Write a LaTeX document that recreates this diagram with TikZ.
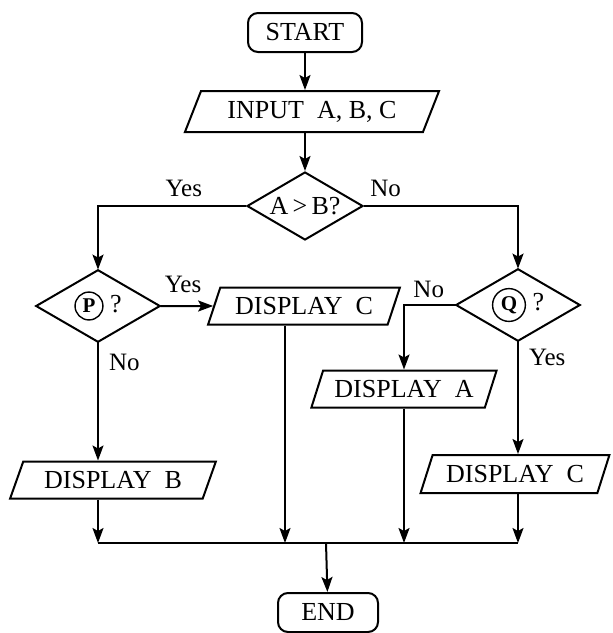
\documentclass[tikz,border=0pt]{standalone}
\usepackage{fontspec}
\setmainfont{Liberation Serif}
\usetikzlibrary{arrows.meta,shapes.geometric}

\newcommand{\boxfont}{\fontsize{13}{15}\selectfont}
\newcommand{\labfont}{\fontsize{12.5}{14}\selectfont}
\newcommand{\circletter}[1]{\tikz[baseline=(c.base)]\node[shape=circle, draw, line width=0.7pt, inner sep=1.6pt, minimum width=0pt, minimum height=0pt, font=\fontsize{10.5}{10.5}\selectfont\bfseries] (c) {#1};}

\begin{document}
\begin{tikzpicture}[x=0.5pt, y=-0.5pt, line width=1pt,
    >={Stealth[length=7.5pt, width=5.5pt, inset=1.5pt]},
    term/.style={draw, rectangle, rounded corners=5pt, minimum width=57pt, minimum height=19.5pt, inner sep=0pt, font=\boxfont},
    io/.style={draw, trapezium, trapezium left angle=60, trapezium right angle=120, trapezium stretches=true, minimum height=18.5pt, inner sep=0pt, font=\boxfont},
    test/.style={draw, diamond, aspect=1.7, inner sep=0pt, font=\boxfont},
    lab/.style={font=\labfont, inner sep=2pt}]
    \useasboundingbox (0,0) rectangle (612,633);

    % 开始与输入
    \node[term] (start) at (305,32.5) {START};
    \node[io, minimum width=127.5pt, minimum height=20.5pt] (input) at (312,111.5) {INPUT\enspace A, B, C};

    % 判断框
    \node[test, minimum width=58pt, minimum height=34pt] (ab) at (305,206) {A\,>\,B?};
    \node[test, minimum width=62pt, minimum height=36pt] (p) at (98,306) {\circletter{P}\ ?};
    \node[test, minimum width=62pt, minimum height=36pt] (q) at (518,305) {\circletter{Q}\ ?};

    % 输出框
    \node[io, minimum width=96.5pt] (dc1) at (304,306) {DISPLAY\enspace C};
    \node[io, minimum width=93pt] (da) at (404,389) {DISPLAY\enspace A};
    \node[io, minimum width=103.5pt] (db) at (113,480) {DISPLAY\enspace B};
    \node[io, minimum width=95pt, minimum height=19pt] (dc2) at (515,474) {DISPLAY\enspace C};

    % 结束
    \node[term, minimum width=50pt] (end) at (328,612.5) {END};
    \coordinate (mrg) at (326,543);
    \coordinate (m1) at (285,543);

    % 连线
    \draw[->] (start) -- (start |- input.north);
    \draw[->] (ab.north |- input.south) -- (ab.north);
    \draw[->] (ab.west) -| node[lab, pos=0.21, above=2pt] {Yes} (p.north);
    \draw[->] (ab.east) -| node[lab, pos=0.07, above=2pt] {No} (q.north);
    \draw[->] (p.east) -- node[lab, pos=0.43, above=4pt] {Yes} (dc1.west);
    \draw[->] (p.south) -- node[lab, pos=0.17, right=3pt] {No} (p.south |- db.north);
    \draw[->] (p.south |- db.south) -- (p.south |- mrg);
    \draw[->] (dc1.south -| m1) -- (m1);
    \draw[->] (q.west) -| node[lab, pos=0.26, above=1pt] {No} (da.north);
    \draw[->] (da.south) -- (da.south |- mrg);
    \draw[->] (q.south) -- node[lab, pos=0.14, right=3pt] {Yes} (q.south |- dc2.north);
    \draw[->] (q.south |- dc2.south) -- (q.south |- mrg);

    % 汇合线
    \draw (p.south |- mrg) -- (q.south |- mrg);
    \draw[->] (mrg) -- (end);
\end{tikzpicture}
\end{document}
